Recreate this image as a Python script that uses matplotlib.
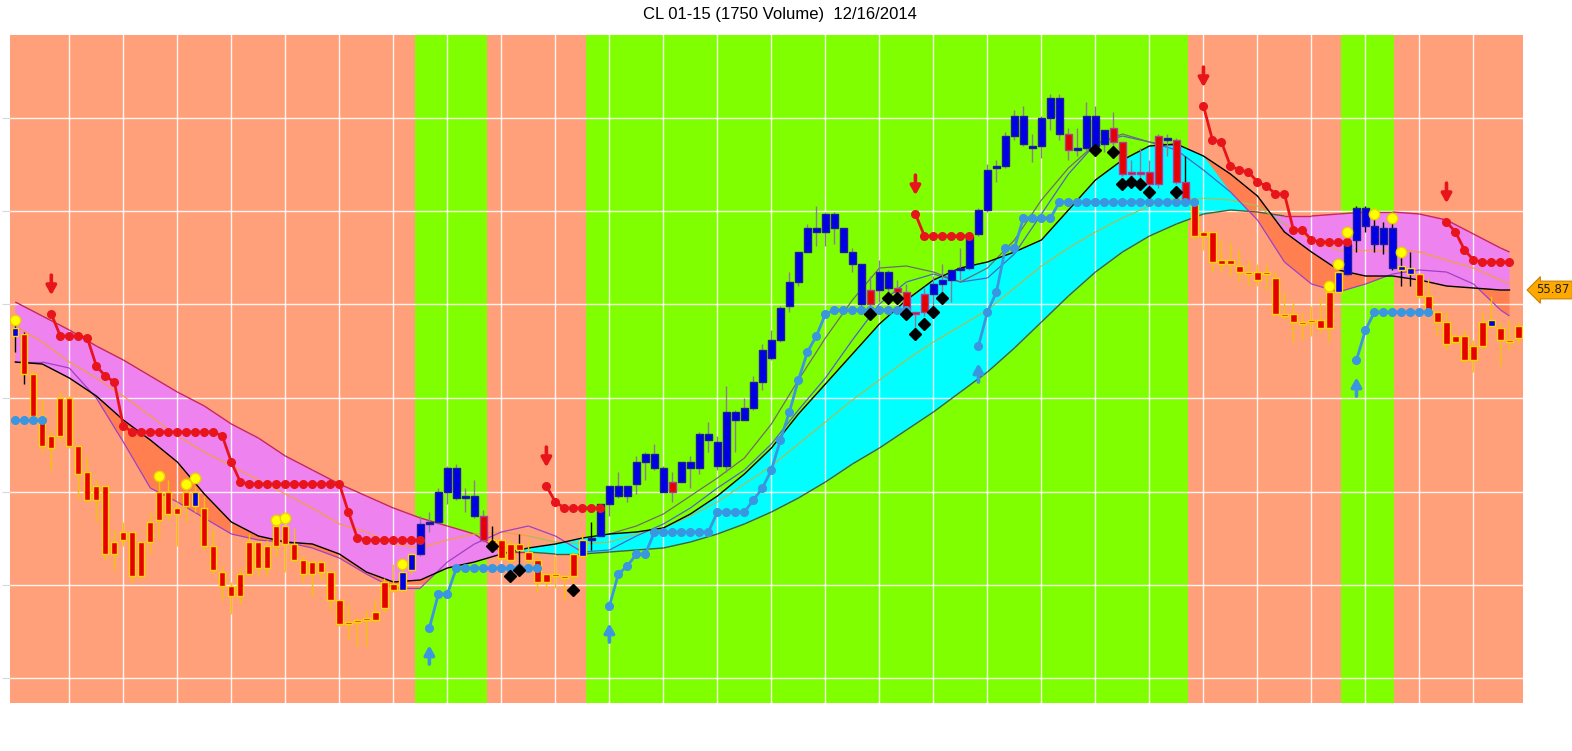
import numpy as np
import matplotlib.pyplot as plt
from matplotlib.collections import LineCollection
from matplotlib.transforms import ScaledTranslation, blended_transform_factory

# ---------------- data (CL 01-15, 1750 volume bars, 12/16/2014) ----------------
opens = [55.64, 55.65, 55.45, 55.24, 55.14, 55.33, 55.33, 55.09, 54.96, 54.89,
         54.89, 54.61, 54.66, 54.66, 54.61, 54.71, 54.86, 54.86, 54.78, 54.86,
         54.79, 54.78, 54.59, 54.46, 54.39, 54.45, 54.61, 54.61, 54.59, 54.69,
         54.69, 54.60, 54.52, 54.51, 54.51, 54.46, 54.32, 54.21, 54.22, 54.23,
         54.26, 54.41, 54.40, 54.37, 54.47, 54.55, 54.70, 54.71, 54.86, 54.83,
         54.83, 54.74, 54.74, 54.62, 54.62, 54.60, 54.60, 54.56, 54.52, 54.45,
         54.45, 54.44, 54.55, 54.54, 54.62, 54.64, 54.80, 54.84, 54.84, 54.90,
         55.01, 54.98, 54.86, 54.91, 54.91, 54.98, 54.98, 55.12, 54.99, 54.99,
         55.22, 55.22, 55.28, 55.41, 55.53, 55.62, 55.79, 55.91, 56.06, 56.16,
         56.16, 56.18, 56.06, 56.00, 55.80, 55.87, 55.87, 55.88, 55.88, 55.86,
         55.76, 55.85, 55.85, 55.90, 55.92, 55.97, 55.98, 56.15, 56.27, 56.48,
         56.49, 56.64, 56.60, 56.58, 56.59, 56.73, 56.65, 56.65, 56.57, 56.58,
         56.59, 56.60, 56.68, 56.61, 56.46, 56.46, 56.46, 56.64, 56.62, 56.62,
         56.41, 56.30, 56.16, 56.16, 56.02, 56.02, 55.99, 55.96, 55.96, 55.96,
         55.93, 55.75, 55.75, 55.71, 55.72, 55.72, 55.86, 55.86, 55.95, 56.12,
         56.19, 56.10, 56.10, 55.98, 55.97, 55.95, 55.95, 55.84, 55.76, 55.71,
         55.64, 55.64, 55.59, 55.71, 55.69, 55.68, 55.62, 55.69]
highs = [55.71, 55.66, 55.46, 55.32, 55.17, 55.36, 55.34, 55.09, 55.04, 54.92,
         54.89, 54.67, 54.71, 54.66, 54.61, 54.76, 54.92, 54.92, 54.81, 54.87,
         54.89, 54.84, 54.67, 54.49, 54.41, 54.48, 54.65, 54.61, 54.62, 54.69,
         54.70, 54.68, 54.54, 54.52, 54.52, 54.47, 54.32, 54.30, 54.24, 54.27,
         54.32, 54.43, 54.50, 54.48, 54.56, 54.74, 54.76, 54.88, 54.99, 55.00,
         54.88, 54.92, 54.77, 54.69, 54.62, 54.62, 54.65, 54.62, 54.54, 54.46,
         54.54, 54.45, 54.56, 54.66, 54.71, 54.80, 54.89, 54.96, 54.89, 55.04,
         55.06, 55.10, 54.99, 54.96, 55.01, 55.04, 55.16, 55.21, 55.14, 55.39,
         55.27, 55.33, 55.44, 55.60, 55.67, 55.79, 55.96, 56.06, 56.20, 56.29,
         56.26, 56.26, 56.18, 56.08, 56.00, 55.94, 56.02, 55.97, 55.92, 55.90,
         55.76, 55.88, 55.94, 56.00, 55.97, 56.08, 56.15, 56.28, 56.50, 56.52,
         56.66, 56.77, 56.79, 56.65, 56.74, 56.85, 56.85, 56.68, 56.68, 56.81,
         56.79, 56.67, 56.76, 56.61, 56.52, 56.58, 56.52, 56.65, 56.65, 56.63,
         56.54, 56.30, 56.16, 56.16, 56.12, 56.11, 56.07, 56.02, 56.00, 56.00,
         55.96, 55.86, 55.81, 55.76, 55.79, 55.83, 55.87, 55.97, 56.12, 56.29,
         56.29, 56.24, 56.21, 56.21, 56.05, 56.06, 55.95, 55.93, 55.77, 55.76,
         55.65, 55.67, 55.62, 55.76, 55.84, 55.71, 55.72, 55.71]
lows = [55.56, 55.40, 55.23, 55.06, 54.97, 55.11, 55.08, 54.83, 54.81, 54.71,
        54.52, 54.47, 54.59, 54.41, 54.43, 54.55, 54.63, 54.72, 54.59, 54.71,
        54.76, 54.57, 54.45, 54.32, 54.25, 54.30, 54.44, 54.44, 54.44, 54.54,
        54.46, 54.51, 54.41, 54.34, 54.42, 54.27, 54.19, 54.12, 54.09, 54.09,
        54.21, 54.26, 54.36, 54.36, 54.45, 54.54, 54.66, 54.70, 54.80, 54.82,
        54.76, 54.73, 54.61, 54.57, 54.52, 54.51, 54.47, 54.49, 54.36, 54.38,
        54.38, 54.32, 54.39, 54.52, 54.57, 54.64, 54.74, 54.83, 54.81, 54.85,
        54.92, 54.97, 54.86, 54.81, 54.91, 54.88, 54.95, 55.06, 54.97, 54.96,
        55.06, 55.22, 55.27, 55.37, 55.52, 55.61, 55.76, 55.89, 56.06, 56.09,
        56.09, 56.10, 56.06, 55.96, 55.77, 55.79, 55.81, 55.84, 55.83, 55.76,
        55.66, 55.74, 55.77, 55.86, 55.81, 55.92, 55.97, 56.14, 56.26, 56.41,
        56.48, 56.62, 56.59, 56.51, 56.53, 56.67, 56.62, 56.52, 56.54, 56.57,
        56.58, 56.56, 56.59, 56.44, 56.42, 56.42, 56.39, 56.38, 56.54, 56.40,
        56.32, 56.12, 56.07, 55.96, 55.96, 55.94, 55.91, 55.89, 55.89, 55.87,
        55.74, 55.73, 55.61, 55.62, 55.64, 55.66, 55.61, 55.85, 55.94, 56.06,
        56.16, 56.06, 56.05, 55.97, 55.89, 55.89, 55.83, 55.74, 55.64, 55.57,
        55.60, 55.51, 55.46, 55.58, 55.68, 55.49, 55.57, 55.60]
closes = [55.68, 55.45, 55.24, 55.09, 55.08, 55.14, 55.09, 54.95, 54.82, 54.82,
          54.55, 54.55, 54.62, 54.44, 54.44, 54.61, 54.72, 54.75, 54.75, 54.79,
          54.86, 54.59, 54.47, 54.39, 54.34, 54.34, 54.45, 54.48, 54.48, 54.59,
          54.60, 54.52, 54.45, 54.45, 54.46, 54.32, 54.20, 54.20, 54.21, 54.22,
          54.22, 54.28, 54.37, 54.46, 54.55, 54.70, 54.71, 54.86, 54.98, 54.98,
          54.84, 54.84, 54.62, 54.61, 54.53, 54.52, 54.57, 54.52, 54.41, 54.41,
          54.44, 54.43, 54.44, 54.62, 54.63, 54.80, 54.89, 54.89, 54.89, 55.01,
          55.05, 55.05, 54.98, 54.86, 55.01, 55.01, 55.15, 55.15, 55.11, 55.26,
          55.26, 55.28, 55.41, 55.57, 55.62, 55.78, 55.91, 56.06, 56.18, 56.18,
          56.25, 56.25, 56.18, 56.06, 56.00, 55.80, 55.96, 55.96, 55.86, 55.77,
          55.75, 55.76, 55.90, 55.92, 55.97, 55.98, 56.14, 56.27, 56.47, 56.49,
          56.64, 56.74, 56.74, 56.59, 56.73, 56.83, 56.83, 56.57, 56.58, 56.74,
          56.74, 56.67, 56.61, 56.45, 56.45, 56.45, 56.40, 56.40, 56.63, 56.41,
          56.32, 56.14, 56.14, 56.01, 56.00, 56.00, 55.96, 55.95, 55.92, 55.95,
          55.75, 55.74, 55.71, 55.70, 55.71, 55.68, 55.68, 55.96, 56.10, 56.28,
          56.28, 56.19, 56.18, 56.18, 55.99, 55.98, 55.84, 55.76, 55.71, 55.60,
          55.61, 55.52, 55.52, 55.59, 55.72, 55.62, 55.61, 55.63]

# indicator lines, read every third bar
ma_bars = list(range(0, 166, 3)) + [166]
mid_line = [55.51, 55.50, 55.43, 55.34, 55.22, 55.12, 55.01, 54.85, 54.71, 54.64,
            54.61, 54.60, 54.55, 54.46, 54.41, 54.42, 54.48, 54.51, 54.55, 54.58,
            54.60, 54.63, 54.65, 54.66, 54.68, 54.75, 54.84, 54.95, 55.08, 55.25,
            55.40, 55.55, 55.70, 55.82, 55.92, 55.98, 56.01, 56.06, 56.12, 56.27,
            56.42, 56.52, 56.59, 56.60, 56.54, 56.45, 56.34, 56.16, 56.06, 55.97,
            55.94, 55.94, 55.92, 55.89, 55.88, 55.87, 55.87]
band_line = [55.81, 55.74, 55.67, 55.59, 55.52, 55.44, 55.36, 55.29, 55.20, 55.13,
             55.04, 54.97, 54.90, 54.84, 54.78, 54.73, 54.69, 54.65, 54.56, 54.56,
             54.55, 54.55, 54.56, 54.57, 54.58, 54.61, 54.65, 54.70, 54.76, 54.83,
             54.91, 55.00, 55.08, 55.17, 55.26, 55.36, 55.46, 55.58, 55.71, 55.84,
             55.96, 56.06, 56.14, 56.20, 56.25, 56.27, 56.26, 56.24, 56.24, 56.25,
             56.26, 56.26, 56.25, 56.22, 56.15, 56.08, 56.06]
fast_line = [55.51, 55.51, 55.48, 55.33, 55.11, 54.88, 54.81, 54.73, 54.65, 54.62,
             54.61, 54.58, 54.53, 54.45, 54.38, 54.38, 54.51, 54.60, 54.66, 54.69,
             54.64, 54.56, 54.57, 54.64, 54.70, 54.78, 54.88, 54.97, 55.10, 55.27,
             55.43, 55.62, 55.80, 55.91, 55.95, 55.91, 55.93, 56.05, 56.25, 56.45,
             56.60, 56.64, 56.61, 56.57, 56.47, 56.36, 56.22, 56.01, 55.90, 55.86,
             55.90, 55.95, 55.97, 55.96, 55.90, 55.77, 55.74]
avg_line = [55.69, 55.61, 55.51, 55.43, 55.34, 55.24, 55.14, 55.06, 54.99, 54.92,
            54.85, 54.78, 54.70, 54.66, 54.60, 54.58, 54.62, 54.65, 54.66, 54.64,
            54.61, 54.60, 54.61, 54.65, 54.68, 54.74, 54.81, 54.90, 54.99, 55.10,
            55.21, 55.32, 55.42, 55.52, 55.61, 55.69, 55.77, 55.88, 55.99, 56.08,
            56.16, 56.23, 56.29, 56.33, 56.33, 56.32, 56.29, 56.20, 56.12, 56.07,
            56.07, 56.07, 56.06, 56.02, 55.98, 55.92, 55.90]
quick_bars = list(range(66, 130, 3))
quick_line = [54.65, 54.69, 54.75, 54.84, 54.93, 55.03, 55.20, 55.42, 55.63, 55.82,
              55.98, 55.99, 55.96, 55.91, 55.98, 56.12, 56.32, 56.48, 56.60, 56.65,
              56.61, 56.59]

# trailing stops: (first bar, values)
red_stop_1 = (4, [55.75, 55.64, 55.64, 55.64, 55.63, 55.49, 55.44, 55.41, 55.19]
              + [55.16] * 10 + [55.14, 55.01, 54.91] + [54.90] * 11
              + [54.76, 54.63] + [54.62] * 7)
red_stop_2 = (59, [54.89, 54.81] + [54.78] * 5)
red_stop_3 = (100, [56.25] + [56.14] * 6)
red_stop_4 = (132, [56.79, 56.62, 56.61, 56.49, 56.47, 56.46, 56.41, 56.39, 56.35,
                    56.35, 56.17, 56.17, 56.12, 56.11, 56.11, 56.11, 56.11])
red_stop_5 = (159, [56.21, 56.16, 56.07, 56.02] + [56.01] * 4)
blue_stop_a = (0, [55.22] * 4)
blue_stop_b = (46, [54.18, 54.35, 54.35] + [54.48] * 10)
blue_stop_c = (66, [54.29, 54.45, 54.49, 54.55, 54.55] + [54.66] * 7 + [54.76] * 4
               + [54.82, 54.88, 54.97, 55.12, 55.26, 55.42, 55.56, 55.64, 55.75]
               + [55.77] * 9)
blue_stop_d = (107, [55.59, 55.76, 55.86, 56.08, 56.08] + [56.23] * 4 + [56.31] * 16)
blue_stop_e = (149, [55.52, 55.67] + [55.76] * 7)

yellow_bars = [0, 16, 19, 20, 29, 30, 43, 146, 147, 148, 151, 153, 154]
yellow_vals = [55.72, 54.94, 54.90, 54.93, 54.72, 54.73, 54.50, 55.89, 56.00, 56.16,
               56.25, 56.23, 56.06]
diamond_bars = [53, 55, 56, 62, 95, 97, 98, 99, 100, 101, 102, 103,
                120, 122, 123, 124, 125, 126, 129]
diamond_vals = [54.59, 54.44, 54.47, 54.37, 55.75, 55.83, 55.83, 55.75, 55.65, 55.70,
                55.76, 55.83, 56.57, 56.56, 56.40, 56.41, 56.40, 56.36, 56.36]

green_spans = [(44.4, 52.4), (63.4, 130.3), (147.3, 153.2)]
dark_wick_bars = [0, 1, 53, 56, 64, 130, 149, 150, 151, 152, 153, 154, 155]
price_grid = [53.93, 54.395, 54.86, 55.33, 55.80, 56.265, 56.73]

# ---------------- styling ----------------
SALMON = '#FFA07A'
GREEN = '#7FFF00'
VIOLET = '#EE82EE'
CYAN = '#00FFFF'
CORAL = '#FF7F50'
RED = '#E60000'
BLUE = '#0000E6'
GOLD = '#FFD700'
STOP_RED = '#E8141C'
STOP_BLUE = '#3A96E0'

fig = plt.figure(figsize=(15.72, 7.51), dpi=100)
ax = fig.add_axes([10 / 1572, 48 / 751, 1513 / 1572, 668 / 751])
ax.set_xlim(-0.59, 167.5)
ax.set_ylim(53.805, 57.145)
ax.set_facecolor(SALMON)
for a, b in green_spans:
    ax.axvspan(a, b, color=GREEN, lw=0, zorder=0)

ax.set_xticks(np.arange(6, 167, 6))
ax.set_yticks(price_grid)
ax.set_axisbelow(False)
ax.grid(True, color='white', lw=1, alpha=0.9)
ax.tick_params(labelleft=False, labelbottom=False)
ax.tick_params(axis='x', length=0)
ax.tick_params(axis='y', direction='out', length=6, width=0.8, color='#d8d8d8')
for s in ax.spines.values():
    s.set_visible(False)

x = np.array(ma_bars)
mid = np.array(mid_line)
band = np.array(band_line)
fast = np.array(fast_line)
avg = np.array(avg_line)

ax.fill_between(x, band, mid, where=band >= mid, interpolate=True, color=VIOLET, lw=0, zorder=1.8)
ax.fill_between(x, mid, band, where=mid >= band, interpolate=True, color=CYAN, lw=0, zorder=1.8)
coral_mask = (fast <= mid) & ((x <= 51) | (x >= 135))
ax.fill_between(x, mid, fast, where=coral_mask, interpolate=True, color=CORAL, lw=0, zorder=1.9)


def two_tone(xs, ys, flags, c_true, c_false, lw, z):
    pts = np.column_stack([xs, ys])
    segs = np.stack([pts[:-1], pts[1:]], axis=1)
    cols = [c_true if f else c_false for f in flags[:-1]]
    ax.add_collection(LineCollection(segs, colors=cols, linewidths=lw, zorder=z))


down = band >= mid
two_tone(x, band, down, '#C8285A', '#4E5E2E', 1.0, 3)
two_tone(x, avg, down, '#F2A040', '#A8BE5A', 0.9, 3)
two_tone(x, fast, (x < 63) | (x >= 135), '#A040C8', '#4A66C8', 0.9, 3)
ax.plot(quick_bars, quick_line, color='#6E6E6E', lw=0.9, zorder=3)
ax.plot(x, mid, color='black', lw=1.0, zorder=3.1)

# candles
o = np.array(opens)
h = np.array(highs)
lo = np.array(lows)
c = np.array(closes)
idx = np.arange(len(o))
up = c >= o
green = np.array([any(a <= i <= b for a, b in green_spans) for i in idx])
face = np.where(up, BLUE, RED)
edge = np.where(green, np.where(up, '#1E1E9A', '#B03C9C'), GOLD)
wick = np.where(green, '#8C7A99', '#F2C400').astype(object)
wick[dark_wick_bars] = 'black'
ax.vlines(idx, lo, h, colors=list(wick), lw=1, zorder=4)
ax.bar(idx, np.maximum(np.abs(c - o), 0.006), bottom=np.minimum(o, c), width=0.7,
       color=face, edgecolor=edge, linewidth=1, zorder=5)


def stop_arrow(i, y, color, down_arrow):
    tip, tail = (13.5, 28) if down_arrow else (-12.5, -26)
    t_tip = ax.transData + ScaledTranslation(0, tip / 72, fig.dpi_scale_trans)
    t_tail = ax.transData + ScaledTranslation(0, tail / 72, fig.dpi_scale_trans)
    ax.annotate('', xy=(i, y), xycoords=t_tip, xytext=(i, y), textcoords=t_tail,
                arrowprops=dict(arrowstyle='-|>,head_length=0.45,head_width=0.25',
                                color=color, lw=2.6, mutation_scale=12,
                                shrinkA=0, shrinkB=0), zorder=7)


for start, vals in [red_stop_1, red_stop_2, red_stop_3, red_stop_4, red_stop_5]:
    xs = np.arange(start, start + len(vals))
    ax.plot(xs, vals, '-o', color=STOP_RED, lw=2, ms=5.5, zorder=6)
    stop_arrow(start, vals[0], STOP_RED, True)

for k, (start, vals) in enumerate([blue_stop_a, blue_stop_b, blue_stop_c, blue_stop_d, blue_stop_e]):
    xs = np.arange(start, start + len(vals))
    ax.plot(xs, vals, '-o', color=STOP_BLUE, lw=2, ms=5.5, zorder=6)
    if k > 0:
        stop_arrow(start, vals[0], STOP_BLUE, False)

ax.plot(yellow_bars, yellow_vals, 'o', color='#FFFF00', mec='#E8D200', ms=7.5, zorder=7)
ax.plot(diamond_bars, diamond_vals, 'D', color='black', ms=6, zorder=7)

trans = blended_transform_factory(ax.transAxes, ax.transData)
ax.text(1.009, mid[-1], f'{mid[-1]:.2f}', transform=trans, ha='left', va='center',
        fontsize=8.5, color='#202020', clip_on=False,
        bbox=dict(boxstyle='larrow,pad=0.2', fc='#FFA800', ec='#C88000', lw=0.8))

fig.text(780 / 1572, 1 - 14 / 751, 'CL 01-15 (1750 Volume)  12/16/2014',
         ha='center', va='center', fontsize=12,
         family=['Liberation Sans', 'DejaVu Sans'])

fig.savefig('out.png', dpi=100, facecolor='white')
